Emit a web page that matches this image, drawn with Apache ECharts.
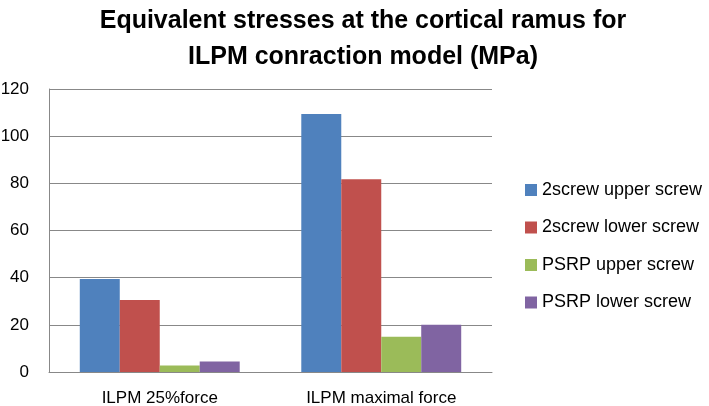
<!DOCTYPE html>
<html><head><meta charset="utf-8">
<script src="https://cdn.jsdelivr.net/npm/echarts@6/dist/echarts.min.js"></script>
<style>html,body{margin:0;padding:0;background:#fff}#c{width:709px;height:406px}</style>
</head><body><div id="c"></div>
<script>
var categories = ['ILPM 25%force', 'ILPM maximal force'];
var seriesNames = ['2screw upper screw', '2screw lower screw', 'PSRP upper screw', 'PSRP lower screw'];
var upper2 = [39.4, 109.4];
var lower2 = [30.5, 81.7];
var upperP = [2.8, 15];
var lowerP = [4.5, 20];
var colors = ['#4F81BD', '#C0504D', '#9BBB59', '#8064A2'];
var values = [upper2, lower2, upperP, lowerP];
var font = 'Liberation Sans';
var chart = echarts.init(document.getElementById('c'));
chart.setOption({
  animation: false,
  title: {
    text: 'Equivalent stresses at the cortical ramus for\nILPM conraction model (MPa)',
    left: 358, top: -2, textAlign: 'center',
    textStyle: {fontFamily: font, fontWeight: 'bold', fontSize: 25, lineHeight: 36, color: '#000'}
  },
  legend: {
    orient: 'vertical', left: 525, top: 181, padding: 0,
    itemWidth: 12, itemHeight: 12, itemGap: 19.5, icon: 'rect',
    textStyle: {fontFamily: font, fontSize: 18, color: '#000'},
    data: seriesNames
  },
  grid: {left: 49, right: 217, top: 89, bottom: 34, outerBoundsMode: 'none', containLabel: false},
  xAxis: {
    type: 'category', data: categories,
    axisLine: {lineStyle: {color: '#888', width: 1}},
    axisTick: {show: false},
    axisLabel: {fontFamily: font, fontSize: 17, color: '#000', margin: 18}
  },
  yAxis: {
    type: 'value', min: 0, max: 120, interval: 20,
    axisLine: {show: true, lineStyle: {color: '#888', width: 1}},
    axisTick: {show: false},
    splitLine: {lineStyle: {color: '#888', width: 1}},
    axisLabel: {fontFamily: font, fontSize: 17, color: '#000', margin: 20}
  },
  series: seriesNames.map(function (n, i) {
    return {name: n, type: 'bar', data: values[i], barGap: '0%', barCategoryGap: '27.8%',
      itemStyle: {color: colors[i]}};
  })
});
</script></body></html>
